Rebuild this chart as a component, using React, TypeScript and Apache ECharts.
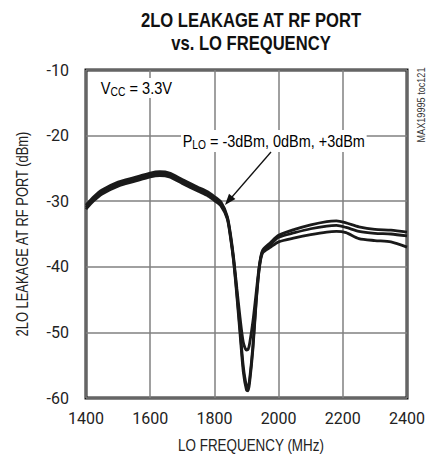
import React, { useEffect, useRef } from "react";
import * as echarts from "echarts";

const TICK_FONT = "Roboto, 'Liberation Sans', sans-serif";
const TEXT_FONT = "'Liberation Sans', Arial, sans-serif";

const freq = [1400, 1425, 1450, 1500, 1550, 1600, 1630, 1660, 1700, 1750, 1780, 1800, 1820, 1840, 1850, 1860, 1870, 1880, 1890, 1900, 1905, 1910, 1920, 1930, 1940, 1950, 1975, 2000, 2050, 2100, 2150, 2180, 2210, 2250, 2300, 2350, 2400];

const plloM3 = [-30.6, -29.3, -28.3, -27.1, -26.4, -25.7, -25.5, -25.7, -26.7, -27.9, -28.6, -29.3, -30.1, -32.3, -35.0, -38.7, -43.3, -47.8, -51.5, -52.7, -52.6, -51.6, -48.3, -44.0, -39.8, -37.5, -36.3, -35.2, -34.3, -33.6, -33.1, -33.0, -33.3, -33.9, -34.3, -34.4, -34.7];
const pllo0 = [-30.9, -29.6, -28.6, -27.4, -26.7, -26.0, -25.8, -26.0, -27.0, -28.2, -28.9, -29.6, -30.4, -32.5, -35.3, -39.0, -44.0, -49.6, -55.2, -58.2, -58.3, -57.0, -52.0, -45.2, -40.0, -37.7, -36.6, -35.5, -34.8, -34.2, -33.8, -33.7, -34.0, -34.6, -34.9, -35.0, -35.3];
const pllo3 = [-31.2, -29.9, -28.9, -27.7, -27.0, -26.3, -26.1, -26.3, -27.3, -28.5, -29.2, -29.9, -30.7, -32.7, -35.5, -39.3, -44.5, -50.3, -56.0, -58.8, -58.9, -57.5, -52.5, -45.5, -40.2, -37.9, -37.0, -36.2, -35.6, -35.1, -34.7, -34.6, -34.8, -35.7, -36.0, -36.2, -37.0];

const xTicks = { min: 1400, max: 2400, interval: 200 };
const yTicks = { min: -60, max: -10, interval: 10 };

const titleLines = ["2LO LEAKAGE AT RF PORT", "vs. LO FREQUENCY"];
const xName = "LO FREQUENCY (MHz)";
const yName = "2LO LEAKAGE AT RF PORT (dBm)";

function pairs(vals: number[]) {
  return freq.map((f, i) => [f, vals[i]]);
}

export default function App() {
  const ref = useRef<HTMLDivElement>(null);
  useEffect(() => {
    if (!ref.current) return;
    const chart = echarts.init(ref.current, undefined, { renderer: "svg" });
    const lineSeries = (name: string, vals: number[]) => ({
      type: "line",
      name,
      data: pairs(vals),
      symbol: "none",
      smooth: 0.25,
      lineStyle: { color: "#1a1a1a", width: 2.8 },
      z: 3,
    });
    chart.setOption({
      animation: false,
      backgroundColor: "#ffffff",
      grid: {
        left: 86,
        right: 12,
        top: 70,
        bottom: 58,
        show: true,
        borderColor: "#151515",
        borderWidth: 3,
        backgroundColor: "transparent",
        containLabel: false,
      },
      xAxis: {
        type: "value",
        min: xTicks.min,
        max: xTicks.max,
        interval: xTicks.interval,
        axisLine: { show: false },
        axisTick: { show: false },
        splitLine: { show: true, lineStyle: { color: "#808080", width: 1.5 } },
        axisLabel: {
          fontSize: 16,
          color: "#222",
          margin: 12,
          fontFamily: TICK_FONT,
          formatter: (v: number) => String(v),
        },
      },
      yAxis: {
        type: "value",
        min: yTicks.min,
        max: yTicks.max,
        interval: yTicks.interval,
        axisLine: { show: false },
        axisTick: { show: false },
        splitLine: { show: true, lineStyle: { color: "#808080", width: 1.5 } },
        axisLabel: {
          fontSize: 16,
          color: "#222",
          margin: 17,
          fontFamily: TICK_FONT,
          formatter: (v: number) => String(v),
        },
      },
      series: [
        lineSeries("-3dBm", plloM3),
        lineSeries("0dBm", pllo0),
        lineSeries("+3dBm", pllo3),
      ],
      graphic: [
        {
          type: "text",
          x: 251,
          y: 20,
          z: 10,
          scaleX: 0.83,
          style: {
            text: titleLines[0],
            font: `bold 20px ${TEXT_FONT}`,
            fill: "#111",
            textAlign: "center",
            textVerticalAlign: "middle",
          },
        },
        {
          type: "text",
          x: 251,
          y: 43,
          z: 10,
          scaleX: 0.83,
          style: {
            text: titleLines[1],
            font: `bold 20px ${TEXT_FONT}`,
            fill: "#111",
            textAlign: "center",
            textVerticalAlign: "middle",
          },
        },
        {
          type: "text",
          x: 251,
          y: 445,
          z: 10,
          scaleX: 0.79,
          style: {
            text: xName,
            font: `17px ${TEXT_FONT}`,
            fill: "#222",
            textAlign: "center",
            textVerticalAlign: "middle",
          },
        },
        {
          type: "text",
          x: 22,
          y: 234,
          z: 10,
          rotation: Math.PI / 2,
          scaleX: 0.76,
          style: {
            text: yName,
            font: `17px ${TEXT_FONT}`,
            fill: "#222",
            textAlign: "center",
            textVerticalAlign: "middle",
          },
        },
        {
          type: "text",
          x: 99,
          y: 88,
          z: 10,
          scaleX: 0.86,
          style: {
            text: "{a|V}{s|CC}{a| = 3.3V}",
            textVerticalAlign: "middle",
            backgroundColor: "#fff",
            padding: [0, 2],
            rich: {
              a: { fontSize: 17, fontFamily: TEXT_FONT, color: "#222" },
              s: { fontSize: 12, fontFamily: TEXT_FONT, color: "#222", padding: [8, 0, 0, 0] },
            },
          },
        },
        {
          type: "text",
          x: 181,
          y: 141,
          z: 10,
          scaleX: 0.85,
          style: {
            text: "{a|P}{s|LO}{a| = -3dBm, 0dBm, +3dBm}",
            textVerticalAlign: "middle",
            backgroundColor: "#fff",
            padding: [1, 2],
            rich: {
              a: { fontSize: 17, fontFamily: TEXT_FONT, color: "#222" },
              s: { fontSize: 12, fontFamily: TEXT_FONT, color: "#222", padding: [8, 0, 0, 0] },
            },
          },
        },
        {
          type: "line",
          z: 10,
          shape: { x1: 271, y1: 152, x2: 232, y2: 197 },
          style: { stroke: "#111", lineWidth: 1.3 },
        },
        {
          type: "polygon",
          z: 10,
          shape: { points: [[225, 205], [235.4, 199.1], [229.0, 193.8]] },
          style: { fill: "#111" },
        },
        {
          type: "text",
          x: 421,
          y: 105,
          z: 10,
          rotation: Math.PI / 2,
          scaleX: 0.83,
          style: {
            text: "MAX19995 toc121",
            font: `11px ${TEXT_FONT}`,
            fill: "#333",
            textAlign: "center",
            textVerticalAlign: "middle",
          },
        },
      ],
    });
    return () => chart.dispose();
  }, []);
  return (
    <div
      ref={ref}
      style={{ position: "fixed", left: 0, top: 0, width: 428, height: 456 }}
    />
  );
}
